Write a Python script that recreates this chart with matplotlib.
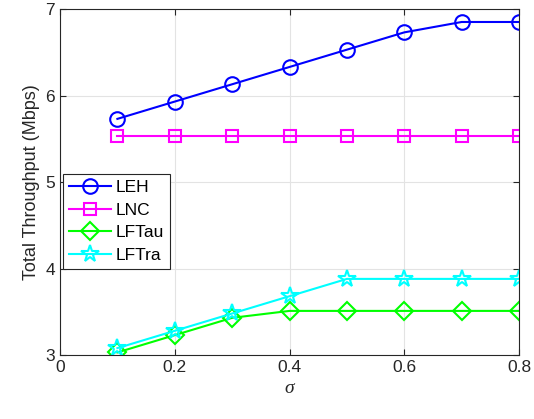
import matplotlib
matplotlib.use("Agg")
import matplotlib.pyplot as plt

plt.rcParams['font.family'] = ['Liberation Sans', 'DejaVu Sans']

sigma = [0.1, 0.2, 0.3, 0.4, 0.5, 0.6, 0.7, 0.8]
leh = [5.73, 5.93, 6.13, 6.33, 6.53, 6.73, 6.85, 6.85]
lnc = [5.53, 5.53, 5.53, 5.53, 5.53, 5.53, 5.53, 5.53]
lftau = [3.03, 3.23, 3.43, 3.51, 3.51, 3.51, 3.51, 3.51]
lftra = [3.08, 3.28, 3.48, 3.68, 3.88, 3.88, 3.88, 3.88]

fig = plt.figure(figsize=(5.34, 4.19), dpi=100)
ax = fig.add_axes([0.1124, 0.1527, 0.8596, 0.8258])

ax.plot(sigma, leh, color='#0000ff', marker='o', markersize=10.5, markerfacecolor='none',
        markeredgewidth=1.5, linewidth=1.5, label='LEH')
ax.plot(sigma, lnc, color='#ff00ff', marker='s', markersize=9, markerfacecolor='none',
        markeredgewidth=1.5, linewidth=1.5, label='LNC')
ax.plot(sigma, lftau, color='#00ff00', marker='D', markersize=9, markerfacecolor='none',
        markeredgewidth=1.5, linewidth=1.5, label='LFTau')
ax.plot(sigma, lftra, color='#00ffff', marker='*', markersize=13, markerfacecolor='none',
        markeredgewidth=1.5, linewidth=1.5, label='LFTra')

ax.set_xlim(0, 0.8)
ax.set_ylim(3, 7)
ax.set_xticks([0, 0.2, 0.4, 0.6, 0.8])
ax.set_xticklabels(['0', '0.2', '0.4', '0.6', '0.8'])
ax.set_yticks([3, 4, 5, 6, 7])
ax.grid(True, color='#e3e3e3', linewidth=0.8)
ax.set_axisbelow(True)
ax.tick_params(direction='in', top=True, right=True, labelsize=12.5, length=4,
               color='#262626', labelcolor='#262626')
for s in ax.spines.values():
    s.set_color('#262626')
    s.set_linewidth(0.8)

ax.set_xlabel('σ', fontsize=14, family='Liberation Serif', style='italic', color='#262626')
ax.set_ylabel('Total Throughput (Mbps)', fontsize=13, color='#262626')

leg = ax.legend(loc='lower left', bbox_to_anchor=(0.006, 0.249), fontsize=12.5, fancybox=False,
                framealpha=1, edgecolor='#262626', borderpad=0.35, labelspacing=0.42,
                handlelength=2.4, handletextpad=0.3, borderaxespad=0)
leg.get_frame().set_linewidth(0.8)

fig.savefig('out.png', dpi=100)
